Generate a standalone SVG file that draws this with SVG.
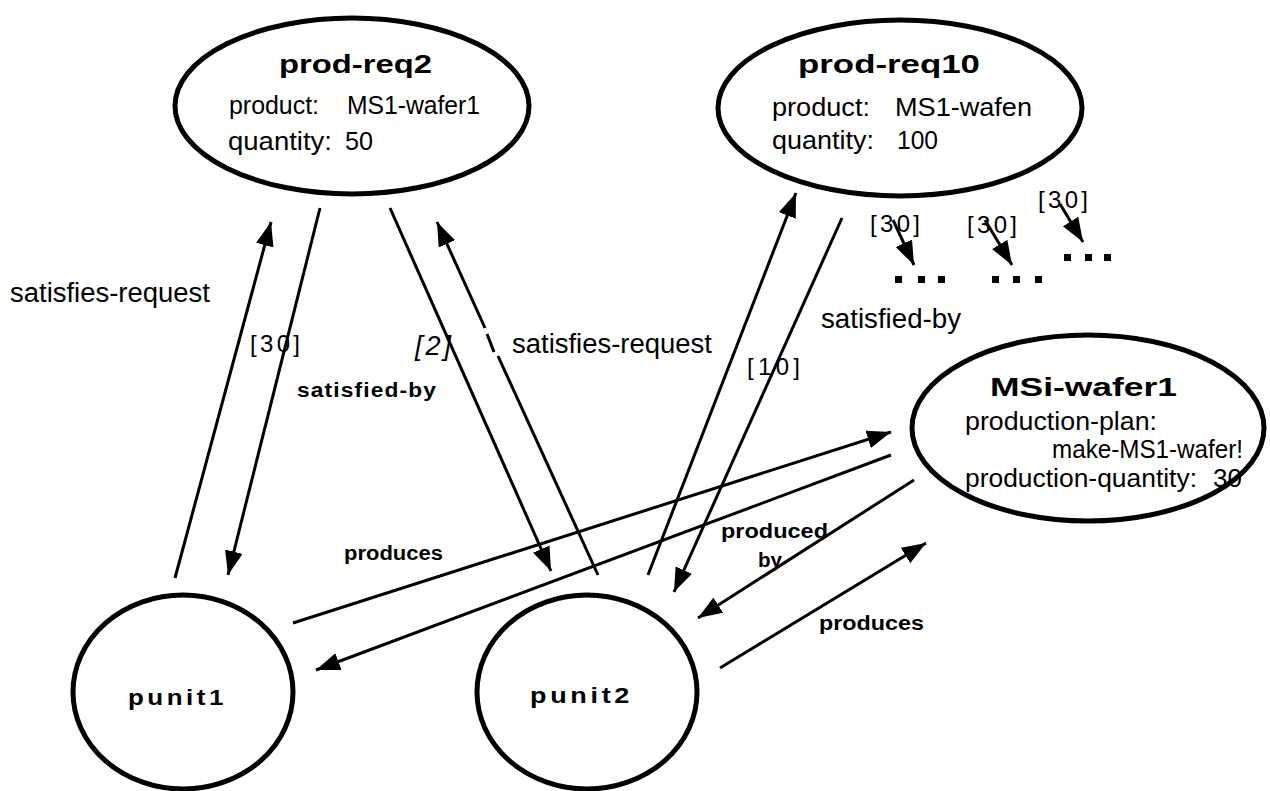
<svg xmlns="http://www.w3.org/2000/svg" width="1270" height="791" viewBox="0 0 1270 791">
<style>
.node{fill:none;stroke:#000;stroke-width:5}
.t{font-family:"Liberation Sans",Arial,sans-serif;fill:#000}
.title{font-weight:bold;font-size:26px}
.attr{font-size:26px}
.lbl{font-size:27px}
.blbl{font-size:20px;font-weight:bold}
.br{font-size:24px}
.conn line{stroke:#000;stroke-width:3;marker-end:url(#ah)}
.conn line.plain{marker-end:none}
</style>
<defs>
<marker id="ah" markerUnits="userSpaceOnUse" markerWidth="26" markerHeight="20" refX="24" refY="9" orient="auto">
<path d="M0,0 L24,9 L0,18 z" fill="#000"/>
</marker>
</defs>
<rect width="1270" height="791" fill="#fff"/>
<g id="prod-req2">
<ellipse class="node" cx="352" cy="106" rx="177" ry="88"/>
<text class="t title" x="279" y="73" textLength="153" lengthAdjust="spacingAndGlyphs">prod-req2</text>
<text class="t attr" x="229" y="114" textLength="90" lengthAdjust="spacingAndGlyphs">product:</text>
<text class="t attr" x="347" y="114" textLength="133" lengthAdjust="spacingAndGlyphs">MS1-wafer1</text>
<text class="t attr" x="228" y="150" textLength="104" lengthAdjust="spacingAndGlyphs">quantity:</text>
<text class="t attr" x="345" y="150" textLength="28" lengthAdjust="spacingAndGlyphs">50</text>
</g>
<g id="prod-req10">
<ellipse class="node" cx="900" cy="108" rx="182" ry="88"/>
<text class="t title" x="798" y="73" textLength="182" lengthAdjust="spacingAndGlyphs">prod-req10</text>
<text class="t attr" x="772" y="116" textLength="98" lengthAdjust="spacingAndGlyphs">product:</text>
<text class="t attr" x="895" y="116" textLength="137" lengthAdjust="spacingAndGlyphs">MS1-wafen</text>
<text class="t attr" x="772" y="149" textLength="102" lengthAdjust="spacingAndGlyphs">quantity:</text>
<text class="t attr" x="897" y="149" textLength="41" lengthAdjust="spacingAndGlyphs">100</text>
</g>
<g id="msi-wafer1">
<ellipse class="node" cx="1088" cy="428" rx="176" ry="93"/>
<text class="t title" x="990" y="396" textLength="187" lengthAdjust="spacingAndGlyphs">MSi-wafer1</text>
<text class="t attr" x="965" y="430" textLength="192" lengthAdjust="spacingAndGlyphs">production-plan:</text>
<text class="t attr" x="1052" y="458" textLength="191" lengthAdjust="spacingAndGlyphs">make-MS1-wafer!</text>
<text class="t attr" x="965" y="487" textLength="232" lengthAdjust="spacingAndGlyphs">production-quantity:</text>
<text class="t attr" x="1213" y="487">30</text>
</g>
<g id="punit1">
<ellipse class="node" cx="183" cy="692" rx="110" ry="97"/>
<text class="t blbl" x="128" y="705" textLength="99" lengthAdjust="spacingAndGlyphs" style="font-size:22px;letter-spacing:3px">punit1</text>
</g>
<g id="punit2">
<ellipse class="node" cx="587" cy="692" rx="110" ry="97"/>
<text class="t blbl" x="530" y="703" textLength="103" lengthAdjust="spacingAndGlyphs" style="font-size:22px;letter-spacing:3px">punit2</text>
</g>
<g id="connectors" class="conn">
<line x1="175" y1="578" x2="271" y2="222"/>
<line x1="320" y1="208" x2="228" y2="575"/>
<line x1="390" y1="208" x2="551" y2="571"/>
<line class="plain" x1="598" y1="575" x2="498" y2="356"/>
<line class="plain" x1="494" y1="352" x2="487" y2="334"/>
<line x1="485" y1="328" x2="437" y2="222"/>
<line x1="648" y1="575" x2="796" y2="193"/>
<line x1="842" y1="218" x2="674" y2="592"/>
<line x1="293" y1="623" x2="891" y2="432"/>
<line x1="891" y1="455" x2="316" y2="670"/>
<line x1="914" y1="480" x2="698" y2="618"/>
<line x1="720" y1="668" x2="926" y2="543"/>
<line x1="893" y1="220" x2="914" y2="265"/>
<line x1="985" y1="220" x2="1012" y2="265"/>
<line x1="1060" y1="204" x2="1083" y2="242"/>
</g>
<g id="ellipsis-marks">
<rect x="895" y="276" width="7" height="7"/>
<rect x="918" y="276" width="7" height="7"/>
<rect x="938" y="276" width="7" height="7"/>
<rect x="992" y="276" width="7" height="7"/>
<rect x="1013" y="276" width="7" height="7"/>
<rect x="1035" y="276" width="7" height="7"/>
<rect x="1064" y="254" width="7" height="7"/>
<rect x="1085" y="254" width="7" height="7"/>
<rect x="1104" y="254" width="7" height="7"/>
</g>
<g id="labels">
<text class="t lbl" x="10" y="302" textLength="200" lengthAdjust="spacingAndGlyphs">satisfies-request</text>
<text class="t br" x="250" y="352" textLength="50" lengthAdjust="spacing">[30]</text>
<text class="t blbl" x="297" y="397" textLength="140" lengthAdjust="spacingAndGlyphs" style="letter-spacing:1px">satisfied-by</text>
<text class="t lbl" x="415" y="355" font-style="italic" textLength="36" lengthAdjust="spacing">[2]</text>
<text class="t lbl" x="512" y="353" textLength="200" lengthAdjust="spacingAndGlyphs">satisfies-request</text>
<text class="t lbl" x="821" y="328" textLength="140" lengthAdjust="spacingAndGlyphs">satisfied-by</text>
<text class="t br" x="747" y="375" textLength="53" lengthAdjust="spacing">[10]</text>
<text class="t blbl" x="344" y="560" textLength="99" lengthAdjust="spacingAndGlyphs">produces</text>
<text class="t blbl" x="721" y="538" textLength="107" lengthAdjust="spacingAndGlyphs">produced</text>
<text class="t blbl" x="758" y="567" textLength="24" lengthAdjust="spacingAndGlyphs">by</text>
<text class="t blbl" x="819" y="630" textLength="105" lengthAdjust="spacingAndGlyphs">produces</text>
<text class="t br" x="870" y="232" textLength="50" lengthAdjust="spacing">[30]</text>
<text class="t br" x="967" y="233" textLength="50" lengthAdjust="spacing">[30]</text>
<text class="t br" x="1038" y="208" textLength="50" lengthAdjust="spacing">[30]</text>
</g>
</svg>
